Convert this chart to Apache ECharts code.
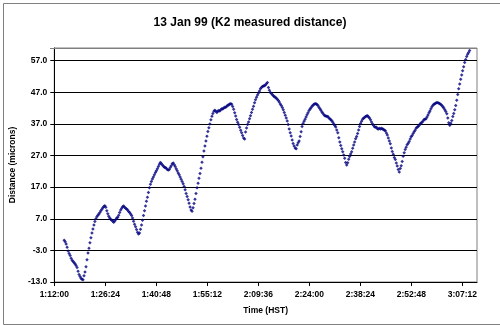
<!DOCTYPE html>
<html>
<head>
<meta charset="utf-8">
<script src="https://cdn.jsdelivr.net/npm/echarts@6/dist/echarts.min.js"></script>
<style>
html,body{margin:0;padding:0;background:#fff;}
#c{width:500px;height:325px;}
</style>
</head>
<body>
<div id="c"></div>
<script>
// Time of each sample, seconds after midnight (HST)
const timeSec = [
4488,4505,4521,4538,4555,4572,4589,4605,4622,4639,
4656,4673,4689,4706,4723,4740,4757,4773,4790,4807,
4824,4840,4857,4874,4891,4908,4924,4941,4958,4975,
4992,5008,5025,5042,5059,5076,5092,5109,5126,5143,
5160,5176,5193,5210,5227,5243,5260,5277,5294,5311,
5327,5344,5361,5378,5395,5411,5428,5445,5462,5479,
5495,5512,5529,5546,5562,5579,5596,5613,5630,5646,
5663,5680,5697,5714,5730,5747,5764,5781,5798,5814,
5831,5848,5865,5881,5898,5915,5932,5949,5965,5982,
5999,6016,6033,6049,6066,6083,6100,6117,6133,6150,
6167,6184,6200,6217,6234,6251,6268,6284,6301,6318,
6335,6352,6368,6385,6402,6419,6436,6452,6469,6486,
6503,6519,6536,6553,6570,6587,6603,6620,6637,6654,
6671,6687,6704,6721,6738,6755,6771,6788,6805,6822,
6838,6855,6872,6889,6906,6922,6939,6956,6973,6990,
7006,7023,7040,7057,7074,7090,7107,7124,7141,7158,
7174,7191,7208,7225,7241,7258,7275,7292,7309,7325,
7342,7359,7376,7393,7409,7426,7443,7460,7477,7493,
7510,7527,7544,7560,7577,7594,7611,7628,7644,7661,
7678,7695,7712,7728,7745,7762,7779,7796,7812,7829,
7846,7863,7879,7896,7913,7930,7947,7963,7980,7997,
8014,8031,8047,8064,8081,8098,8115,8131,8148,8165,
8182,8198,8215,8232,8249,8266,8282,8299,8316,8333,
8350,8366,8383,8400,8417,8434,8450,8467,8484,8501,
8517,8534,8551,8568,8585,8601,8618,8635,8652,8669,
8685,8702,8719,8736,8753,8769,8786,8803,8820,8837,
8853,8870,8887,8904,8920,8937,8954,8971,8988,9004,
9021,9038,9055,9072,9088,9105,9122,9139,9156,9172,
9189,9206,9223,9239,9256,9273,9290,9307,9323,9340,
9357,9374,9391,9407,9424,9441,9458,9475,9491,9508,
9525,9542,9558,9575,9592,9609,9626,9642,9659,9676,
9693,9710,9726,9743,9760,9777,9794,9810,9827,9844,
9861,9877,9894,9911,9928,9945,9961,9978,9995,10012,
10029,10045,10062,10079,10096,10113,10129,10146,10163,10180,
10196,10213,10230,10247,10264,10280,10297,10314,10331,10348,
10364,10381,10398,10415,10432,10448,10465,10482,10499,10516,
10532,10549,10566,10583,10599,10616,10633,10650,10667,10683,
10700,10717,10734,10751,10767,10784,10801,10818,10835,10851,
10868,10885,10902,10918,10935,10952,10969,10986,11002,11019,
11036,11053,11070,11086,11103,11120,11137,11154,11170,11187,
11204,11221,11237,11254,11271,11288,11305,11321,11338,11355
];
// K2 measured distance, microns
const distance = [
0.2,-0.3,-1.0,-2.0,-3.2,-4.0,-4.6,-5.5,-6.1,-6.5,
-6.9,-7.3,-7.8,-8.4,-9.6,-10.6,-11.3,-11.8,-12.1,-12.3,
-11.0,-9.8,-8.2,-6.0,-3.8,-2.3,-0.6,1.0,2.5,3.8,
5.0,6.1,7.0,7.6,8.1,8.5,9.0,9.5,10.0,10.5,
10.9,11.1,10.6,9.5,8.6,7.8,7.2,6.8,6.6,6.2,
5.9,6.3,6.8,7.2,7.5,8.1,9.0,9.8,10.3,10.8,
11.0,10.6,10.3,10.1,9.8,9.3,9.0,8.5,8.0,7.2,
6.2,5.3,4.5,3.6,2.7,2.2,2.5,3.7,5.0,6.5,
8.0,9.5,11.0,12.5,13.8,15.3,16.8,17.9,18.8,19.6,
20.2,20.9,21.6,22.2,22.8,23.5,24.2,24.8,24.5,24.0,
23.7,23.3,23.2,23.0,22.6,22.4,22.6,23.2,23.8,24.4,
24.6,24.1,23.5,22.8,22.2,21.5,20.9,20.2,19.5,18.8,
18.1,17.2,16.2,15.0,14.0,13.0,11.9,10.7,9.8,9.4,
10.5,11.8,13.2,15.0,16.8,18.2,19.8,21.3,23.0,24.9,
26.6,28.4,30.0,31.6,33.1,34.6,35.8,37.0,38.3,39.4,
40.3,41.0,41.3,41.0,40.6,41.0,41.2,41.1,41.5,41.8,
41.7,42.0,42.3,42.3,42.6,42.9,43.0,43.3,43.4,43.2,
42.5,41.6,40.5,39.5,38.4,37.5,36.8,35.9,35.0,34.2,
33.3,32.5,32.2,34.4,35.7,36.8,37.6,38.6,39.6,40.6,
41.6,42.6,43.7,44.6,45.4,46.1,46.8,47.4,48.1,48.5,
48.8,49.0,49.1,49.3,49.7,50.1,48.5,47.6,46.9,46.6,
46.2,45.9,45.6,45.4,45.1,44.8,44.4,43.9,43.3,42.8,
42.2,41.5,40.6,39.7,38.9,37.9,36.8,35.4,34.2,33.2,
31.9,30.8,30.0,29.4,29.1,30.3,31.0,31.6,33.0,34.5,
36.2,37.1,37.8,38.5,39.2,39.9,40.5,41.2,41.7,42.1,
42.6,42.9,43.2,43.4,43.4,43.1,42.8,42.3,41.8,41.3,
40.8,40.4,39.9,39.6,39.5,39.3,39.3,38.9,38.6,38.3,
38.0,37.5,37.0,36.5,36.0,35.1,34.2,32.6,31.3,30.2,
29.1,28.2,27.2,26.1,24.8,24.0,24.7,25.8,26.7,27.5,
28.2,29.3,30.3,31.3,32.3,33.0,34.0,35.1,36.2,37.1,
37.8,38.5,38.8,39.0,39.3,39.5,39.6,39.2,38.9,38.3,
37.6,37.0,36.6,36.1,35.9,35.9,35.5,35.4,35.6,35.4,
35.6,35.4,35.3,35.0,34.8,34.1,33.5,32.5,31.6,30.7,
29.4,28.3,27.4,26.4,25.7,24.6,23.7,22.6,21.8,22.9,
23.8,25.1,26.8,27.9,28.9,29.6,30.4,30.9,31.4,32.2,
32.9,33.3,34.0,34.5,35.0,35.6,35.9,36.2,36.5,37.0,
37.3,37.5,37.9,38.4,38.5,38.6,39.2,39.8,40.5,41.1,
41.8,42.4,42.9,43.2,43.4,43.6,43.8,43.7,43.5,43.4,
43.1,42.8,42.4,42.0,41.5,40.9,40.2,38.9,37.4,36.6,
37.2,38.1,39.3,40.3,41.5,42.8,44.5,46.3,48.1,49.6,
51.1,52.5,53.8,55.1,56.4,57.4,58.3,59.0,59.6,60.2
];
// Axis tick values
const xTicks = [4320,5184,6048,6912,7776,8640,9504,10368,11232];
const yTicks = [-13,-3,7,17,27,37,47,57];

const FONT = '"Liberation Sans", Arial, sans-serif';
function hms(s){
  const h = Math.floor(s/3600), m = Math.floor((s%3600)/60), sec = Math.round(s%60);
  return h + ':' + String(m).padStart(2,'0') + ':' + String(sec).padStart(2,'0');
}
const points = timeSec.map((t,i)=>[t, distance[i]]);

const chart = echarts.init(document.getElementById('c'), null, {renderer:'canvas'});
chart.setOption({
  animation:false,
  backgroundColor:'#ffffff',
  title:{
    text:'13 Jan 99 (K2 measured distance)',
    left:'center', top:12,
    textStyle:{fontFamily:FONT, fontSize:12, fontWeight:'bold', color:'#000'}
  },
  graphic:[{
    type:'rect', left:1, top:1, z:100, silent:true,
    shape:{width:497, height:321},
    style:{fill:'none', stroke:'#808080', lineWidth:1}
  },{
    type:'line', z:100, silent:true,
    shape:{x1:50, y1:48.5, x2:477, y2:48.5},
    style:{stroke:'#808080', lineWidth:1}
  }],
  grid:{left:50, right:23, top:48, bottom:43, show:true, borderColor:'#808080', borderWidth:1, backgroundColor:'#ffffff'},
  xAxis:{
    type:'value', min:4320, max:11480, interval:864,
    name:'Time (HST)', nameLocation:'middle', nameGap:24,
    nameTextStyle:{fontFamily:FONT, fontSize:8.5, fontWeight:'bold', color:'#000'},
    axisLine:{show:true, onZero:false, lineStyle:{color:'#000', width:1}},
    axisTick:{show:true, inside:false, length:4, customValues:xTicks, lineStyle:{color:'#000'}},
    axisLabel:{customValues:xTicks, formatter:v=>hms(v), margin:8, fontFamily:FONT, fontSize:8.5, fontWeight:'bold', color:'#000'},
    splitLine:{show:false}
  },
  yAxis:{
    type:'value', min:-13, max:61, interval:10,
    name:'Distance (microns)', nameLocation:'middle', nameGap:32,
    nameTextStyle:{fontFamily:FONT, fontSize:8.5, fontWeight:'bold', color:'#000'},
    axisLine:{show:true, onZero:false, lineStyle:{color:'#000', width:1}},
    axisTick:{show:true, inside:false, length:4, customValues:yTicks, lineStyle:{color:'#000'}},
    axisLabel:{customValues:yTicks, formatter:v=>v.toFixed(1), margin:7, fontFamily:FONT, fontSize:8.5, fontWeight:'bold', color:'#000'},
    splitLine:{show:true, lineStyle:{color:'#000', width:1}}
  },
  series:[{
    type:'scatter',
    data:points,
    symbol:'diamond',
    symbolSize:3.5,
    itemStyle:{color:'#000080'}
  }]
});
</script>
</body>
</html>
